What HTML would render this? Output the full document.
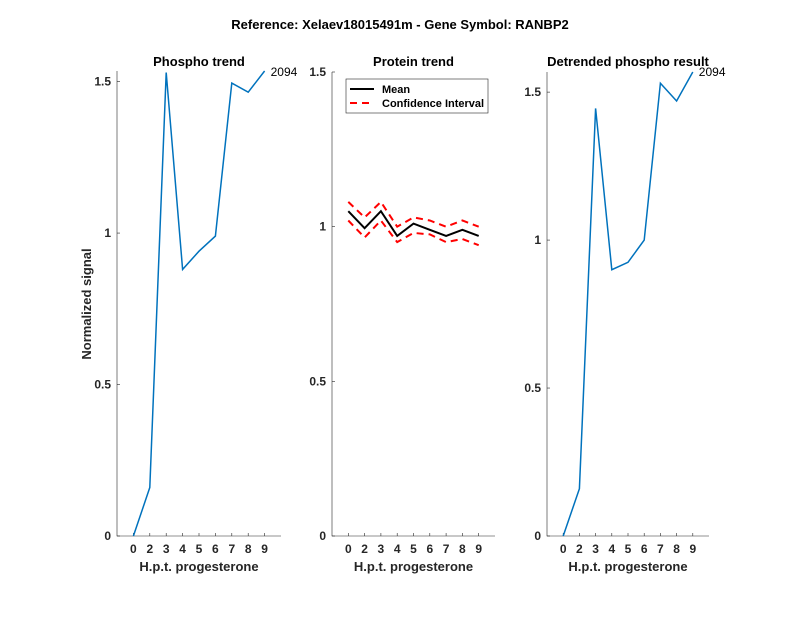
<!DOCTYPE html>
<html><head><meta charset="utf-8"><style>
body{margin:0;background:#fff}
svg text{font-family:"Liberation Sans",Arial,sans-serif}
</style></head><body>
<svg id="c" width="800" height="618" xmlns="http://www.w3.org/2000/svg">
<rect width="800" height="618" fill="#fff"/>
<text x="400" y="29" font-size="13" font-weight="bold" text-anchor="middle">Reference:  Xelaev18015491m - Gene Symbol:  RANBP2</text>
</svg>
<script>
const categories=["0","2","3","4","5","6","7","8","9"];
const phospho=[0,0.16,1.53,0.88,0.94,0.99,1.495,1.465,1.535];
const proteinMean=[1.05,0.995,1.05,0.97,1.01,0.99,0.97,0.99,0.97];
const proteinUpper=[1.08,1.03,1.08,1.0,1.03,1.02,1.0,1.02,1.0];
const proteinLower=[1.02,0.965,1.02,0.95,0.98,0.975,0.95,0.96,0.94];
const detrended=[0,0.16,1.445,0.9,0.925,1.0,1.53,1.47,1.568];
const yTicks=[0,0.5,1,1.5];
const yTickLabels=["0","0.5","1","1.5"];
const peptideLabel="2094";

const svg=document.getElementById('c');
const NS="http://www.w3.org/2000/svg";
function mk(t,a,parent){const e=document.createElementNS(NS,t);for(const k in a)e.setAttribute(k,a[k]);(parent||svg).appendChild(e);return e;}

function panel(name,L,R,T,B,ymax,title){
  const g=mk('g',{});
  
  
  const n=categories.length;
  const xs=i=>L+(i+1)*(R-L)/(n+1);
  const ys=v=>B-(v/ymax)*(B-T);
  const ax=mk('path',{d:`M${L},${T}V${B}H${R}`,stroke:'#262626','stroke-width':0.6,fill:'none'},g);
  
  
  yTicks.forEach((v,k)=>{
    mk('line',{x1:L,x2:L+3,y1:ys(v),y2:ys(v),stroke:'#262626','stroke-width':0.6},g);
    const t=mk('text',{x:L-6,y:ys(v)+4,'font-size':12,'font-weight':'bold','text-anchor':'end',fill:'#262626'},g);
    t.textContent=yTickLabels[k];
    
    
  });
  categories.forEach((c,i)=>{
    mk('line',{x1:xs(i),x2:xs(i),y1:B,y2:B-3,stroke:'#262626','stroke-width':0.6},g);
    const t=mk('text',{x:xs(i),y:B+17,'font-size':12,'font-weight':'bold','text-anchor':'middle',fill:'#262626'},g);
    t.textContent=c;
    
    
  });
  const xl=mk('text',{x:(L+R)/2,y:B+35,'font-size':13,'font-weight':'bold','text-anchor':'middle',fill:'#262626'},g);
  xl.textContent='H.p.t. progesterone';
  
  
  const tt=mk('text',{x:(L+R)/2,y:66,'font-size':13,'font-weight':'bold','text-anchor':'middle'},g);
  tt.textContent=title;
  
  
  return {g,xs,ys};
}
function line(p,arr,style,name){
  const d=arr.map((v,i)=>(i?'L':'M')+p.xs(i).toFixed(1)+','+p.ys(v).toFixed(1)).join('');
  const e=mk('path',Object.assign({d,fill:'none'},style),p.g);
  
  
}

const p1=panel('phospho-trend-panel',117,281,71,536,1.535,'Phospho trend');
line(p1,phospho,{stroke:'#0072BD','stroke-width':1.5},'phospho-line');
let lb=mk('text',{x:p1.xs(8)+6,y:p1.ys(phospho[8])+5,'font-size':12},p1.g);
lb.textContent=peptideLabel;


const yl=mk('text',{x:0,y:0,'font-size':13,'font-weight':'bold','text-anchor':'middle',transform:'translate(91,304) rotate(-90)',fill:'#262626'});
yl.textContent='Normalized signal';



const p2=panel('protein-trend-panel',332,495,72,536,1.5,'Protein trend');
line(p2,proteinUpper,{stroke:'#ff0000','stroke-width':2,'stroke-dasharray':'7,5'},'ci-upper-line');
line(p2,proteinLower,{stroke:'#ff0000','stroke-width':2,'stroke-dasharray':'7,5'},'ci-lower-line');
line(p2,proteinMean,{stroke:'#000','stroke-width':2},'mean-line');
const lg=mk('g',{},p2.g);


mk('rect',{x:346,y:79,width:142,height:34,fill:'#fff',stroke:'#262626','stroke-width':0.6},lg);
mk('line',{x1:350,x2:374,y1:89,y2:89,stroke:'#000','stroke-width':2},lg);
mk('line',{x1:350,x2:374,y1:103,y2:103,stroke:'#f00','stroke-width':2,'stroke-dasharray':'7,5'},lg);
let t1=mk('text',{x:382,y:93,'font-size':11,'font-weight':'bold'},lg);t1.textContent='Mean';


let t2=mk('text',{x:382,y:107,'font-size':11,'font-weight':'bold'},lg);t2.textContent='Confidence Interval';



const p3=panel('detrended-panel',547,709,72,536,1.568,'Detrended phospho result');
line(p3,detrended,{stroke:'#0072BD','stroke-width':1.5},'detrended-line');
lb=mk('text',{x:p3.xs(8)+6,y:p3.ys(detrended[8])+4,'font-size':12},p3.g);
lb.textContent=peptideLabel;


</script>
</body></html>
